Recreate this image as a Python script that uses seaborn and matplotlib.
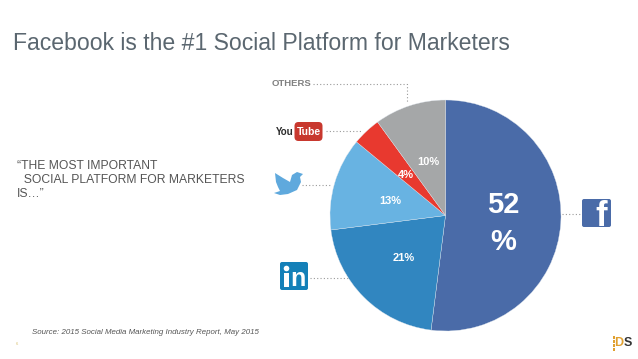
import seaborn as sns
import matplotlib.pyplot as plt
from matplotlib.patches import FancyBboxPatch, Rectangle, Polygon, Circle

# Share of marketers per platform, clockwise from the top
platforms = ["Facebook", "LinkedIn", "Twitter", "YouTube", "Others"]
shares = [52, 21, 13, 4, 10]
share_labels = ["52\n%", "21%", "13%", "4%", "10%"]
slice_colors = ["#4a6ba8", "#3186c0", "#68b3e2", "#e8392f", "#a5a7a8"]

title = "Facebook is the #1 Social Platform for Marketers"
quote = "\u201cTHE MOST IMPORTANT\n  SOCIAL PLATFORM FOR MARKETERS\nIS\u2026\u201d"
source = "Source: 2015 Social Media Marketing Industry Report, May 2015"

W, H = 638, 359
sns.set_theme(style="white")
plt.rcParams["font.family"] = ["Liberation Sans", "DejaVu Sans"]

fig = plt.figure(figsize=(W / 100, H / 100), dpi=100, facecolor="white")

# page layer in pixels, y going down like the screenshot
page = fig.add_axes([0, 0, 1, 1])
page.set_xlim(0, W)
page.set_ylim(H, 0)
page.axis("off")

# pie layer
cx, cy, r = 445.5, 215.5, 115.5
ax = fig.add_axes([(cx - r) / W, 1 - (cy + r) / H, 2 * r / W, 2 * r / H])
palette = sns.color_palette(slice_colors)
wedges, _ = ax.pie(shares, colors=palette, startangle=90, counterclock=False, radius=1,
                   wedgeprops={"linewidth": 0.25, "edgecolor": "#dfe6ee"})
ax.set_xlim(-1, 1)
ax.set_ylim(-1, 1)


def px(x, y):
    return (x - cx) / r, (cy - y) / r


# slice labels
ax.text(*px(503, 205), share_labels[0].split("\n")[0], color="white", fontsize=21, fontweight="bold", ha="center", va="center")
ax.text(*px(503, 242), share_labels[0].split("\n")[1], color="white", fontsize=21, fontweight="bold", ha="center", va="center")
label_pos = [(404, 258), (390, 201), (406, 175), (428, 162)]
for lab, (x, y) in zip(share_labels[1:], label_pos):
    ax.text(*px(x, y), lab, color="white", fontsize=8, fontweight="bold", ha="center", va="center")

# texts
page.text(13, 43, title, color="#5b6770", fontsize=16.6, va="center", ha="left")
page.text(17, 180, quote, color="#555555", fontsize=8.7, va="center", ha="left", linespacing=1.2)
page.text(32, 332.5, source, color="#555555", fontsize=5.7, style="italic", va="center", ha="left")
page.text(272, 83, "OTHERS", color="#808080", fontsize=6.8, fontweight="bold", va="center", ha="left")
page.text(16, 344, "6", color="#d8c070", fontsize=3, va="center", ha="left")

# dotted leader lines
dots = dict(color="#9a9a9a", linewidth=0.8, linestyle=(0, (1, 2)))
page.plot([313, 407, 407], [84, 84, 103], **dots)
page.plot([326, 362], [131, 131], **dots)
page.plot([302, 331], [185, 185], **dots)
page.plot([310, 348], [278, 278], **dots)
page.plot([562, 581], [214, 214], **dots)

# youtube logo
page.text(275.5, 132, "You", color="#2b2b2b", fontsize=7, fontweight="bold", va="center", ha="left")
page.add_patch(FancyBboxPatch((294.5, 122), 28, 19, boxstyle="round,pad=0,rounding_size=4", fc="#c8382e", ec="none"))
page.text(308.5, 132, "Tube", color="white", fontsize=7.6, fontweight="bold", va="center", ha="center")

# twitter bird
bird = [(275, 173), (283, 178), (290, 182), (292, 175), (297, 172), (303, 174), (300, 177), (301, 182),
        (297, 190), (288, 194), (280, 195), (274, 193), (280, 191), (278, 187), (276, 182)]
page.add_patch(Polygon(bird, fc="#5fa9dd", ec="none"))

# linkedin logo
page.add_patch(FancyBboxPatch((280, 262), 28, 28, boxstyle="round,pad=0,rounding_size=2", fc="#1480b8", ec="none"))
page.add_patch(Rectangle((284, 273), 5, 14, fc="white", ec="none"))
page.add_patch(Circle((286.5, 268.5), 2.8, fc="white", ec="none"))
page.text(298, 279, "n", color="white", fontsize=18, fontweight="bold", va="center", ha="center")

# facebook logo
page.add_patch(FancyBboxPatch((582, 199), 29, 28, boxstyle="round,pad=0,rounding_size=2", fc="#4a6ba8", ec="none"))
page.text(601, 216, "f", color="white", fontsize=25, fontweight="bold", va="center", ha="center")

# DS mark in the corner, the gold stripes stand for the 3
for y in [336, 340, 344, 348]:
    page.add_patch(Rectangle((612.5, y), 2.5, 2.5, fc="#e0a030", ec="none"))
page.text(614.5, 343.5, "D", color="#e0a030", fontsize=9, fontweight="bold", va="center", ha="left")
page.text(623.5, 343.5, "S", color="#333333", fontsize=9, fontweight="bold", va="center", ha="left")

fig.savefig("out.png", dpi=100)
